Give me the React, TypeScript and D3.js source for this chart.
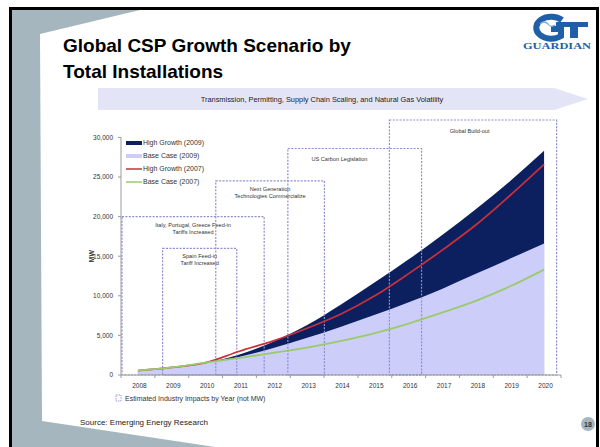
import React from "react";
import * as d3 from "d3";

const years = [2008, 2009, 2010, 2011, 2012, 2013, 2014, 2015, 2016, 2017, 2018, 2019, 2020];
const highGrowth2009 = [550, 950, 1550, 2600, 4200, 6300, 8900, 11700, 14600, 17700, 21000, 24500, 28300];
const baseCase2009 = [550, 950, 1550, 2300, 3400, 4700, 6100, 7600, 9200, 10900, 12800, 14700, 16600];
const highGrowth2007 = [550, 950, 1550, 3000, 4300, 5900, 7700, 10000, 12800, 15800, 19000, 22700, 26600];
const baseCase2007 = [550, 950, 1550, 2150, 2800, 3450, 4300, 5300, 6500, 7900, 9400, 11200, 13300];
const yTicks = [0, 5000, 10000, 15000, 20000, 25000, 30000];

const seriesNames = ["High Growth (2009)", "Base Case (2009)", "High Growth (2007)", "Base Case (2007)"];
const seriesColors = ["#0c1f5f", "#cdcdfa", "#c8303c", "#9acb6a"];

const impactLabels = [
  ["Italy, Portugal, Greece Feed-in", "Tariffs Increased"],
  ["Spain Feed-in", "Tariff Increased"],
  ["Next Generation", "Technologies Commercialize"],
  ["US Carbon Legislation"],
  ["Global Build-out"],
];
const impactStart = [2007.53, 2008.73, 2010.3, 2012.43, 2015.43];
const impactEnd = [2011.73, 2010.92, 2013.51, 2016.38, 2020.37];
const impactTop = [20000, 16000, 24500, 28600, 32200];
const impactLabelShift = [0, 0, 0, -0.45, -0.1];

const FONT = "'Liberation Sans', Arial, sans-serif";

export default function App() {
  const x = d3.scaleLinear().domain([2007.5, 2020.5]).range([121, 561]);
  const y = d3.scaleLinear().domain([0, 30000]).range([375, 137.4]);
  const band = d3.scaleBand<number>().domain(years).range([121, 561]);

  const idx = years.map((_, i) => i);
  const areaOf = (vals: number[]) =>
    d3
      .area<number>()
      .x((i) => x(years[i]))
      .y0(y(0))
      .y1((i) => y(vals[i]))
      .curve(d3.curveMonotoneX)(idx) || "";
  const lineOf = (vals: number[]) =>
    d3
      .line<number>()
      .x((i) => x(years[i]))
      .y((i) => y(vals[i]))
      .curve(d3.curveMonotoneX)(idx) || "";

  const boundaries = d3.range(years.length + 1).map((i) => (i < years.length ? band(years[i])! : band.range()[1]));

  const dash = "2,1.4";
  const boxColor = "#8e8ecc";

  return (
    <div style={{ position: "fixed", left: 0, top: 0 }}>
      <svg width={600} height={447} style={{ display: "block", fontFamily: FONT }}>
        <rect x={0} y={0} width={600} height={447} fill="#ffffff" />
        {/* slide frame */}
        <rect x={10.5} y={8.5} width={587} height={450} fill="#a5b6be" stroke="#000" strokeWidth={3} />
        <polygon points="40,34 140,10 596,10 596,447 215,447 42,421" fill="#ffffff" />

        {/* title */}
        <text x={63} y={52} fontSize={19} fontWeight="bold" fill="#000">Global CSP Growth Scenario by</text>
        <text x={63} y={78} fontSize={19} fontWeight="bold" fill="#000">Total Installations</text>

        {/* logo */}
        <g>
          <path d="M562,20 A15,11 0 1 0 561,36 L561,29 L551,29" fill="none" stroke="#1f5fa8" strokeWidth={6} />
          <path d="M556,22 L588,22 L588,27 L578,27 L578,38 L570,38 L570,27 L556,27 Z" fill="#1f5fa8" />
          <path d="M540,24 q4,-4 8,0 q3,4 7,1" fill="none" stroke="#7fa7d6" strokeWidth={1.2} />
          <text x={557} y={49} fontSize={8.5} fontWeight="bold" fill="#1f5fa8" textAnchor="middle" fontFamily="'Liberation Serif', serif" textLength={68} lengthAdjust="spacingAndGlyphs">GUARDIAN</text>
        </g>

        {/* banner arrow */}
        <polygon points="98,88 554,88 588,99 554,110 98,110" fill="#e4e4f7" />
        <text x={322} y={101.5} fontSize={7.4} fill="#222" textAnchor="middle">Transmission, Permitting, Supply Chain Scaling, and Natural Gas Volatility</text>

        {/* areas */}
        <path d={areaOf(highGrowth2009)} fill={seriesColors[0]} />
        <path d={areaOf(baseCase2009)} fill={seriesColors[1]} />

        {/* impact boxes */}
        {impactLabels.map((lines, i) => {
          const x0 = x(impactStart[i]);
          const x1 = x(impactEnd[i]);
          const yt = y(impactTop[i]);
          const cx = x((impactStart[i] + impactEnd[i]) / 2 + impactLabelShift[i]);
          return (
            <g key={i}>
              <rect x={x0} y={yt} width={x1 - x0} height={y(0) - yt} fill="none" stroke={boxColor} strokeWidth={1.2} strokeDasharray={dash} />
              {lines.map((t, j) => (
                <text key={j} x={cx} y={yt + (lines.length === 1 ? 13 : 10) + j * 7} fontSize={5.6} fill="#333" textAnchor="middle">{t}</text>
              ))}
            </g>
          );
        })}

        {/* lines */}
        <path d={lineOf(highGrowth2007)} fill="none" stroke={seriesColors[2]} strokeWidth={1.8} />
        <path d={lineOf(baseCase2007)} fill="none" stroke={seriesColors[3]} strokeWidth={1.8} />

        {/* axes */}
        <line x1={121} x2={121} y1={y(30000)} y2={y(0)} stroke="#9a9a9a" strokeWidth={1} />
        {yTicks.map((t) => (
          <g key={t}>
            <line x1={118} x2={121} y1={y(t)} y2={y(t)} stroke="#9a9a9a" />
            <text x={113} y={y(t) + 2.3} fontSize={6.5} fill="#333" textAnchor="end">{d3.format(",")(t)}</text>
          </g>
        ))}
        <line x1={121} x2={561} y1={y(0)} y2={y(0)} stroke="#9a9a9a" strokeWidth={1} />
        {boundaries.map((b, i) => (
          <line key={i} x1={b} x2={b} y1={y(0)} y2={y(0) + 3} stroke="#9a9a9a" />
        ))}
        {years.map((yr) => (
          <text key={yr} x={band(yr)! + band.bandwidth() / 2 + 1.5} y={388} fontSize={6.5} fill="#333" textAnchor="middle">{yr}</text>
        ))}
        <text transform={`translate(94,${y(15000)}) rotate(-90)`} fontSize={7} fontWeight="bold" fill="#333" textAnchor="middle">MW</text>

        {/* legend */}
        {seriesNames.map((n, i) => {
          const ly = 143 + i * 13;
          return (
            <g key={n}>
              {i < 2 ? (
                <rect x={126} y={ly - 2} width={16} height={4} fill={seriesColors[i]} />
              ) : (
                <line x1={126} x2={142} y1={ly} y2={ly} stroke={seriesColors[i]} strokeWidth={1.5} />
              )}
              <text x={143} y={ly + 2.4} fontSize={7} fill="#333">{n}</text>
            </g>
          );
        })}

        {/* impact legend */}
        <rect x={116} y={395} width={5} height={6} fill="none" stroke={boxColor} strokeWidth={0.9} strokeDasharray="1.5,1" />
        <text x={125} y={401} fontSize={7} fill="#333">Estimated Industry Impacts by Year (not MW)</text>

        {/* source */}
        <text x={80} y={425} fontSize={8} fill="#222">Source: Emerging Energy Research</text>

        {/* page number */}
        <circle cx={588} cy={424} r={7} fill="#a5b6be" />
        <text x={588} y={426.5} fontSize={7} fontWeight="bold" fill="#333" textAnchor="middle">18</text>
      </svg>
    </div>
  );
}
